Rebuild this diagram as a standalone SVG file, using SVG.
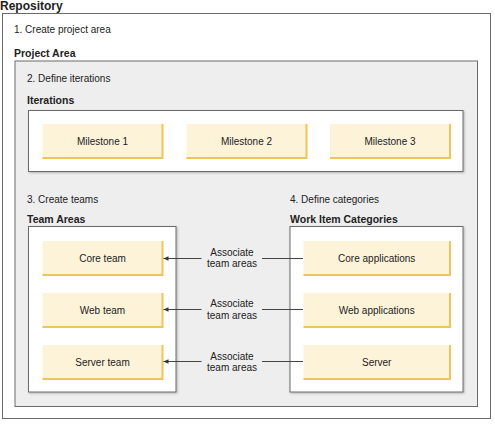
<svg xmlns="http://www.w3.org/2000/svg" width="495" height="424" viewBox="0 0 495 424">
<defs>
<style>
text{font-family:"Liberation Sans",Arial,sans-serif;fill:#222;}
.t{font-size:10px;}
.h{font-size:10.5px;font-weight:bold;}
.big{font-size:12px;font-weight:bold;}
.frame{stroke:#6a6a6a;stroke-width:1;}
.inner{fill:#fff;stroke:#6a6a6a;stroke-width:1;}
.node{fill:#fdf3d9;}
.edge{stroke:#f0c45c;stroke-width:2;fill:none;}
.lbl{font-size:10px;text-anchor:middle;}
.conn{stroke:#444;stroke-width:1;fill:none;}
</style>
<marker id="arr" markerWidth="6" markerHeight="6" refX="5" refY="3" orient="auto" markerUnits="userSpaceOnUse">
<path d="M0,0.8 L5,3 L0,5.2 Z" fill="#333"/>
</marker>
<filter id="sh" x="-5%" y="-5%" width="110%" height="120%">
<feDropShadow dx="1" dy="1" stdDeviation="0.8" flood-color="#000" flood-opacity="0.25"/>
</filter>
</defs>
<rect width="495" height="424" fill="#fff"/>
<g id="repository">
<rect x="2.5" y="13.5" width="488" height="405" fill="#fff" class="frame"/>
<text x="0" y="10" class="big">Repository</text>
<text x="14" y="33" class="t">1. Create project area</text>
</g>
<g id="project-area">
<rect x="15" y="61" width="462.5" height="345.5" fill="#eeeeee" class="frame"/>
<text x="14" y="57" class="h">Project Area</text>
<text x="27" y="82" class="t">2. Define iterations</text>
<text x="27" y="104" class="h">Iterations</text>
<text x="27" y="203" class="t">3. Create teams</text>
<text x="27" y="222.5" class="h">Team Areas</text>
<text x="290" y="203" class="t">4. Define categories</text>
<text x="290" y="222.5" class="h">Work Item Categories</text>
</g>
<g id="iterations">
<rect x="28.5" y="110.5" width="434.5" height="61" class="inner" filter="url(#sh)"/>
</g>
<g id="team-areas">
<rect x="28.5" y="226.5" width="147.5" height="165.5" class="inner" filter="url(#sh)"/>
</g>
<g id="work-item-categories">
<rect x="290" y="226.5" width="173" height="165.5" class="inner" filter="url(#sh)"/>
</g>
<g id="milestone-1">
<rect x="42.5" y="124" width="120" height="34" class="node"/>
<path d="M162.5,124 V158 H42.5" class="edge"/>
<text x="102.5" y="145" class="lbl">Milestone 1</text>
</g>
<g id="milestone-2">
<rect x="186.5" y="124" width="120" height="34" class="node"/>
<path d="M306.5,124 V158 H186.5" class="edge"/>
<text x="246.5" y="145" class="lbl">Milestone 2</text>
</g>
<g id="milestone-3">
<rect x="330" y="124" width="120" height="34" class="node"/>
<path d="M450,124 V158 H330" class="edge"/>
<text x="390" y="145" class="lbl">Milestone 3</text>
</g>
<g id="core-team">
<rect x="42.5" y="241" width="120" height="34" class="node"/>
<path d="M162.5,241 V275 H42.5" class="edge"/>
<text x="102.5" y="262" class="lbl">Core team</text>
</g>
<g id="web-team">
<rect x="42.5" y="293" width="120" height="34" class="node"/>
<path d="M162.5,293 V327 H42.5" class="edge"/>
<text x="102.5" y="314" class="lbl">Web team</text>
</g>
<g id="server-team">
<rect x="42.5" y="345" width="120" height="34" class="node"/>
<path d="M162.5,345 V379 H42.5" class="edge"/>
<text x="102.5" y="366" class="lbl">Server team</text>
</g>
<g id="core-applications">
<rect x="303.5" y="241" width="146.5" height="34" class="node"/>
<path d="M450,241 V275 H303.5" class="edge"/>
<text x="376.7" y="262" class="lbl">Core applications</text>
</g>
<g id="web-applications">
<rect x="303.5" y="293" width="146.5" height="34" class="node"/>
<path d="M450,293 V327 H303.5" class="edge"/>
<text x="376.7" y="314" class="lbl">Web applications</text>
</g>
<g id="server">
<rect x="303.5" y="345" width="146.5" height="34" class="node"/>
<path d="M450,345 V379 H303.5" class="edge"/>
<text x="376.7" y="366" class="lbl">Server</text>
</g>
<g id="connectors">
<path d="M303,258.5 H262" class="conn"/>
<path d="M201.5,258.5 H163.5" class="conn" marker-end="url(#arr)"/>
<text x="232" y="255.5" class="lbl">Associate</text>
<text x="232" y="267" class="lbl">team areas</text>
<path d="M303,309.5 H262" class="conn"/>
<path d="M201.5,309.5 H163.5" class="conn" marker-end="url(#arr)"/>
<text x="232" y="307" class="lbl">Associate</text>
<text x="232" y="318.5" class="lbl">team areas</text>
<path d="M303,361.5 H262" class="conn"/>
<path d="M201.5,361.5 H163.5" class="conn" marker-end="url(#arr)"/>
<text x="232" y="359.5" class="lbl">Associate</text>
<text x="232" y="371" class="lbl">team areas</text>
</g>
</svg>
